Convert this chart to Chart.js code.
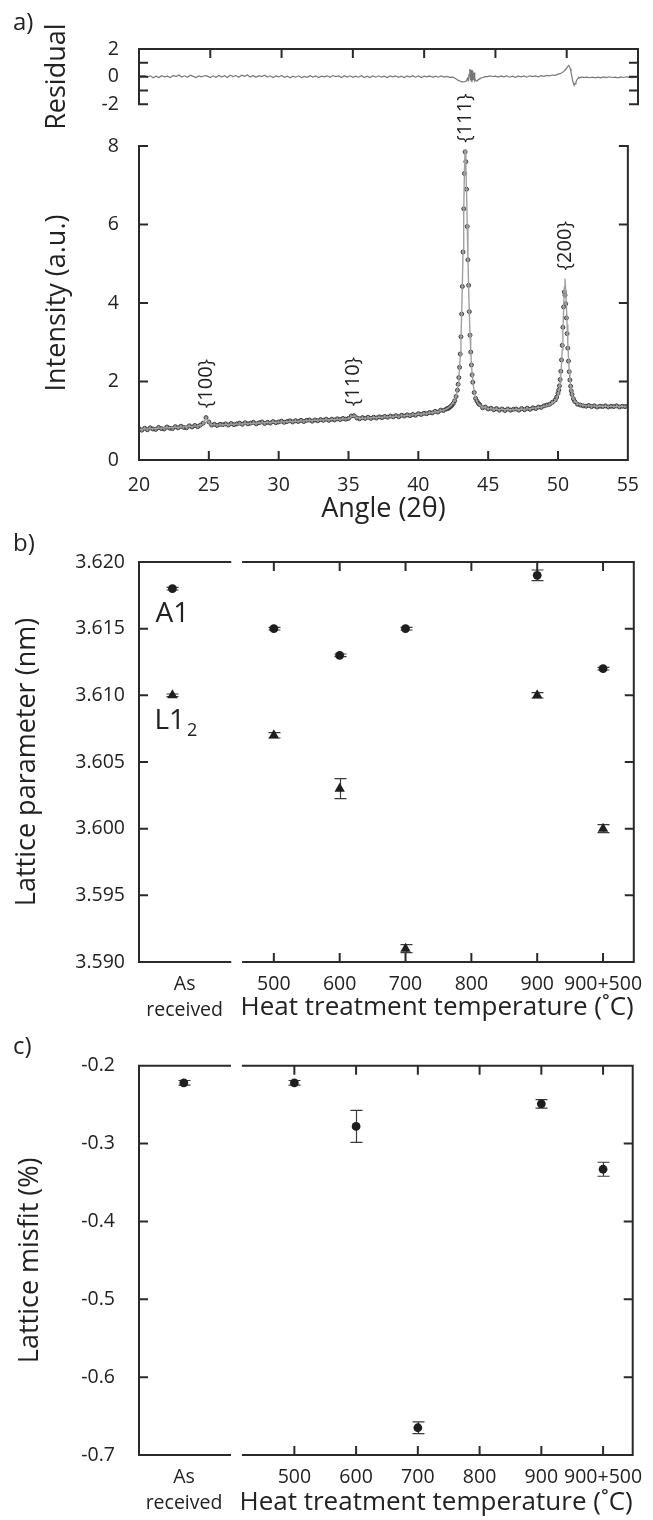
<!DOCTYPE html>
<html>
<head>
<meta charset="utf-8">
<title>XRD and lattice parameters</title>
<script src="https://cdn.jsdelivr.net/npm/chart.js@4.4.1/dist/chart.umd.min.js"></script>
<style>
  html, body { margin: 0; padding: 0; background: #fff; }
  #page { position: relative; width: 653px; height: 1520px; font-family: 'Open Sans', sans-serif; color: #222; }
  canvas { position: absolute; left: 0; }
  .tag { position: absolute; left: 13px; font-size: 24px; line-height: 30px; }
</style>
</head>
<body>
<div id="page">
  <canvas id="residualChart" width="653" height="136" style="top:0"></canvas>
  <canvas id="xrdChart" width="653" height="530" style="top:0"></canvas>
  <canvas id="latticeChart" width="653" height="510" style="top:520px"></canvas>
  <canvas id="misfitChart" width="653" height="490" style="top:1030px"></canvas>
  <div class="tag" style="top:6px">a)</div>
  <div class="tag" style="top:527px">b)</div>
  <div class="tag" style="top:1030px">c)</div>
</div>
<script>
// ---------- a) XRD pattern ----------
const angleTicks = [20, 25, 30, 35, 40, 45, 50, 55];
const intensityTicks = [0, 2, 4, 6, 8];
const residualTicks = [-2, -1, 0, 1, 2];

const scanAngle = [
  20, 20.2, 20.4, 20.6, 20.8, 21, 21.2, 21.4, 21.6, 21.8,
  22, 22.2, 22.4, 22.6, 22.8, 23, 23.2, 23.4, 23.6, 23.8,
  24, 24.2, 24.4, 24.6, 24.8, 25, 25.2, 25.4, 25.6, 25.8,
  26, 26.2, 26.4, 26.6, 26.8, 27, 27.2, 27.4, 27.6, 27.8,
  28, 28.2, 28.4, 28.6, 28.8, 29, 29.2, 29.4, 29.6, 29.8,
  30, 30.2, 30.4, 30.6, 30.8, 31, 31.2, 31.4, 31.6, 31.8,
  32, 32.2, 32.4, 32.6, 32.8, 33, 33.2, 33.4, 33.6, 33.8,
  34, 34.2, 34.4, 34.6, 34.8, 35, 35.2, 35.4, 35.6, 35.8,
  36, 36.2, 36.4, 36.6, 36.8, 37, 37.2, 37.4, 37.6, 37.8,
  38, 38.2, 38.4, 38.6, 38.8, 39, 39.2, 39.4, 39.6, 39.8,
  40, 40.2, 40.4, 40.6, 40.8, 41, 41.2, 41.4, 41.6, 41.8,
  42,
  42.1, 42.2, 42.3, 42.4, 42.5, 42.6, 42.7, 42.8,
  42.85, 42.9, 42.95, 43, 43.05, 43.1, 43.15, 43.2, 43.25, 43.3, 43.35,
  43.4, 43.45, 43.5, 43.55, 43.6, 43.65, 43.7, 43.75, 43.8, 43.85, 43.9,
  44, 44.1, 44.2, 44.3, 44.4, 44.6, 44.8,
  45, 45.2, 45.4, 45.6, 45.8, 46, 46.2, 46.4, 46.6, 46.8,
  47, 47.2, 47.4, 47.6, 47.8, 48, 48.2, 48.4, 48.6, 48.8,
  49, 49.2, 49.4, 49.6, 49.8,
  49.9, 50, 50.05, 50.1, 50.15, 50.2, 50.25, 50.3, 50.35, 50.4, 50.45,
  50.5, 50.55, 50.6, 50.65, 50.7, 50.75, 50.8, 50.85, 50.9, 50.95, 51,
  51.1, 51.2, 51.4, 51.6, 51.8,
  52, 52.2, 52.4, 52.6, 52.8, 53, 53.2, 53.4, 53.6, 53.8,
  54, 54.2, 54.4, 54.6, 54.8, 55
];

const observedIntensity = [
  0.80, 0.76, 0.81, 0.77, 0.82, 0.79, 0.78, 0.83, 0.80, 0.79,
  0.84, 0.81, 0.80, 0.85, 0.82, 0.86, 0.83, 0.82, 0.87, 0.84,
  0.88, 0.85, 0.89, 0.94, 1.08, 0.97, 0.89, 0.91, 0.88, 0.91,
  0.90, 0.92, 0.89, 0.93, 0.90, 0.92, 0.94, 0.91, 0.95, 0.92,
  0.94, 0.96, 0.92, 0.95, 0.97, 0.93, 0.96, 0.94, 0.98, 0.95,
  0.97, 0.99, 0.96, 0.98, 1.00, 0.97, 1.00, 0.98, 1.01, 0.98,
  1.01, 1.02, 0.99, 1.02, 1.00, 1.03, 1.01, 1.04, 1.01, 1.04,
  1.02, 1.05, 1.03, 1.06, 1.04, 1.06, 1.12, 1.13, 1.07, 1.05,
  1.08, 1.06, 1.09, 1.06, 1.09, 1.07, 1.10, 1.08, 1.11, 1.09,
  1.12, 1.10, 1.13, 1.10, 1.14, 1.12, 1.15, 1.13, 1.16, 1.14,
  1.18, 1.16, 1.19, 1.18, 1.21, 1.20, 1.24, 1.22, 1.27, 1.26,
  1.30,
  1.31, 1.33, 1.36, 1.39, 1.44, 1.51, 1.62, 1.78,
  1.93, 2.10, 2.36, 2.70, 3.14, 3.72, 4.42, 5.30, 6.40, 7.30, 7.85,
  7.60, 6.90, 5.95, 5.10, 4.45, 3.78, 3.18, 2.75, 2.42, 2.17, 1.98,
  1.72, 1.57, 1.50, 1.44, 1.41, 1.33, 1.35,
  1.30, 1.32, 1.28, 1.31, 1.27, 1.30, 1.26, 1.30, 1.27, 1.29,
  1.30, 1.27, 1.31, 1.28, 1.32, 1.29, 1.33, 1.31, 1.35, 1.34,
  1.38, 1.40, 1.42, 1.47, 1.53,
  1.60, 1.70, 1.78, 1.89, 2.05, 2.26, 2.55, 2.92, 3.38, 3.90, 4.28,
  4.20, 3.98, 3.62, 3.22, 2.85, 2.52, 2.25, 2.04, 1.88, 1.76, 1.67,
  1.56, 1.49, 1.42, 1.40, 1.38,
  1.37, 1.39, 1.36, 1.38, 1.35, 1.37, 1.36, 1.38, 1.35, 1.37,
  1.36, 1.38, 1.35, 1.37, 1.36, 1.37
];

const calculatedIntensity = [
  0.780, 0.784, 0.788, 0.792, 0.796, 0.800, 0.804, 0.808, 0.812, 0.816,
  0.820, 0.824, 0.828, 0.832, 0.836, 0.840, 0.844, 0.848, 0.852, 0.856,
  0.862, 0.868, 0.878, 0.930, 1.060, 0.960, 0.905, 0.895, 0.893, 0.895,
  0.897, 0.900, 0.904, 0.907, 0.911, 0.914, 0.917, 0.921, 0.924, 0.928,
  0.931, 0.934, 0.938, 0.941, 0.945, 0.948, 0.951, 0.955, 0.958, 0.962,
  0.965, 0.968, 0.972, 0.975, 0.979, 0.982, 0.985, 0.989, 0.992, 0.996,
  0.999, 1.002, 1.006, 1.009, 1.013, 1.016, 1.019, 1.023, 1.026, 1.030,
  1.033, 1.036, 1.040, 1.043, 1.047, 1.055, 1.110, 1.120, 1.075, 1.063,
  1.064, 1.067, 1.071, 1.075, 1.079, 1.083, 1.087, 1.091, 1.095, 1.099,
  1.103, 1.108, 1.113, 1.118, 1.123, 1.130, 1.136, 1.142, 1.149, 1.156,
  1.164, 1.172, 1.180, 1.189, 1.199, 1.210, 1.222, 1.236, 1.252, 1.272,
  1.295,
  1.32, 1.35, 1.38, 1.42, 1.47, 1.54, 1.64, 1.80,
  1.92, 2.08, 2.32, 2.65, 3.10, 3.70, 4.45, 5.35, 6.35, 7.35, 7.92,
  7.55, 6.85, 6.00, 5.15, 4.40, 3.75, 3.20, 2.78, 2.45, 2.20, 2.00,
  1.74, 1.58, 1.49, 1.43, 1.39, 1.35, 1.33,
  1.315, 1.305, 1.298, 1.292, 1.288, 1.285, 1.283, 1.282, 1.282, 1.283,
  1.285, 1.288, 1.292, 1.297, 1.303, 1.310, 1.318, 1.327, 1.338, 1.351,
  1.367, 1.387, 1.413, 1.450, 1.510,
  1.57, 1.66, 1.73, 1.83, 1.97, 2.16, 2.43, 2.80, 3.27, 3.83, 4.40,
  4.62, 4.35, 3.92, 3.45, 3.00, 2.62, 2.32, 2.08, 1.90, 1.77, 1.68,
  1.57, 1.50, 1.44, 1.41, 1.395,
  1.385, 1.380, 1.376, 1.373, 1.371, 1.369, 1.368, 1.367, 1.366, 1.365,
  1.365, 1.364, 1.364, 1.364, 1.363, 1.363
];

const residual = [
  0.12, 0.05, 0.08, -0.04, 0.06, -0.08, 0.03, -0.06, 0.07, -0.02,
  0.04, -0.07, 0.09, 0.01, 0.12, -0.03, 0.06, -0.05, 0.10, 0.02,
  -0.06, 0.05, -0.02, 0.08, 0.04, -0.07, 0.06, -0.04, 0.09, -0.03,
  0.07, -0.06, 0.11, 0.00, 0.08, -0.05, 0.10, 0.03, 0.12, -0.02,
  0.09, -0.04, 0.07, 0.01, 0.10, -0.03, 0.06, -0.07, 0.05, -0.02,
  0.08, -0.05, 0.04, -0.08, 0.03, -0.04, 0.06, -0.06, 0.02, -0.05,
  0.07, -0.03, 0.05, -0.07, 0.04, -0.02, 0.06, -0.05, 0.08, 0.00,
  0.05, -0.06, 0.07, -0.03, 0.06, -0.05, 0.04, -0.04, 0.07, -0.06,
  0.03, -0.07, 0.05, -0.04, 0.06, -0.03, 0.04, -0.06, 0.05, -0.02,
  0.06, -0.05, 0.03, -0.07, 0.05, -0.03, 0.07, -0.04, 0.05, -0.06,
  0.04, -0.02, 0.06, -0.05, 0.03, -0.04, 0.05, -0.03, 0.02, -0.05,
  -0.04,
  -0.08, -0.14, -0.20, -0.27, -0.32, -0.36, -0.38, -0.37,
  -0.36, -0.33, -0.30, -0.22, -0.12, -0.25, 0.15, 0.55, -0.30, 0.50, -0.40,
  0.45, -0.25, 0.30, -0.30, -0.22, -0.28, -0.30, -0.26, -0.22, -0.18, -0.15,
  -0.10, -0.06, -0.03, 0.02, -0.02, 0.05, 0.01,
  0.04, -0.03, 0.05, -0.02, 0.06, -0.04, 0.03, -0.05, 0.04, -0.02,
  0.05, -0.04, 0.06, 0.00, 0.05, -0.02, 0.07, 0.02, 0.09, 0.06,
  0.12, 0.10, 0.18, 0.25, 0.38,
  0.50, 0.62, 0.70, 0.76, 0.78, 0.72, 0.58, 0.35, 0.08, -0.20, -0.42,
  -0.55, -0.58, -0.50, -0.38, -0.26, -0.17, -0.10, -0.06, -0.08, -0.04, -0.06,
  -0.02, -0.07, -0.03, -0.08, -0.04,
  -0.09, -0.03, -0.08, -0.02, -0.07, -0.01, -0.06, -0.03, -0.08, -0.02,
  -0.06, -0.01, -0.05, -0.08, -0.02, -0.05
];

const peakNames = ['{100}', '{110}', '{111}', '{200}'];
const peakAngle = [24.8, 35.35, 43.33, 50.55];
const peakLabelBase = [1.32, 1.37, 8.08, 4.83];

// ---------- b) and c) heat treatments ----------
const treatments = ['As received', '500', '600', '700', '900', '900+500'];
const tempTicks = [500, 600, 700, 800, 900, 1000];
const tempTickLabels = ['500', '600', '700', '800', '900', '900+500'];

const a1Lattice = [3.618, 3.615, 3.613, 3.615, 3.619, 3.612];
const a1Error = [0.0001, 0.0001, 0.0001, 0.0001, 0.0004, 0.0001];
const l12Lattice = [3.610, 3.607, 3.603, 3.591, 3.610, 3.600];
const l12Error = [0.0001, 0.0002, 0.00075, 0.0003, 0.0002, 0.0003];
const latticeTicks = [3.590, 3.595, 3.600, 3.605, 3.610, 3.615, 3.620];

const misfit = [-0.222, -0.222, -0.278, -0.665, -0.249, -0.333];
const misfitError = [0.003, 0.003, 0.0205, 0.0075, 0.0055, 0.009];
const misfitTicks = [-0.7, -0.6, -0.5, -0.4, -0.3, -0.2];

// where each treatment sits on the temperature axis ("As received" is off-scale)
const treatmentPosB = [346, 500, 600, 700, 900, 1000];
const treatmentPosC = [321, 500, 600, 700, 900, 1000];

Chart.defaults.font.family = "'Open Sans', sans-serif";
Chart.defaults.color = '#222';

const INK = '#2a2a2a';
const TICK_FONT = 19.5;
const TITLE_FONT = 27;
const xy = (xs, ys) => xs.map((v, i) => ({ x: v, y: ys[i] }));
const fixTicks = list => scale => { scale.ticks = list.map(v => ({ value: v })); };

// box with inward ticks, optional break in the horizontal axes
function frame(spec) {
  return {
    id: 'frame',
    afterDatasetsDraw(chart) {
      const { ctx, chartArea: a, scales: { x, y } } = chart;
      const t = 8;
      ctx.save();
      ctx.strokeStyle = INK;
      ctx.lineWidth = 2;
      ctx.lineCap = 'square';
      ctx.beginPath();
      const hLine = yy => {
        if (spec.gap) {
          ctx.moveTo(a.left, yy); ctx.lineTo(x.getPixelForValue(spec.gap[0]), yy);
          ctx.moveTo(x.getPixelForValue(spec.gap[1]), yy); ctx.lineTo(a.right, yy);
        } else {
          ctx.moveTo(a.left, yy); ctx.lineTo(a.right, yy);
        }
      };
      if (spec.top) hLine(a.top);
      if (spec.bottom) hLine(a.bottom);
      ctx.moveTo(a.left, a.top); ctx.lineTo(a.left, a.bottom);
      ctx.moveTo(a.right, a.top); ctx.lineTo(a.right, a.bottom);
      spec.yTicks.forEach(v => {
        const py = y.getPixelForValue(v);
        ctx.moveTo(a.left, py); ctx.lineTo(a.left + t, py);
        ctx.moveTo(a.right, py); ctx.lineTo(a.right - t, py);
      });
      spec.xTicks.forEach(v => {
        const px = x.getPixelForValue(v);
        if (spec.tickTop) { ctx.moveTo(px, a.top); ctx.lineTo(px, a.top + t); }
        if (spec.tickBottom) { ctx.moveTo(px, a.bottom); ctx.lineTo(px, a.bottom - t); }
      });
      ctx.stroke();
      ctx.restore();
    }
  };
}

const errorBars = {
  id: 'errorBars',
  beforeDatasetsDraw(chart) {
    const { ctx, scales: { x, y } } = chart;
    ctx.save();
    ctx.strokeStyle = '#3a3a3a';
    ctx.lineWidth = 1.2;
    chart.data.datasets.forEach(ds => {
      if (!ds.errors) return;
      ds.data.forEach((pt, i) => {
        const px = Math.round(x.getPixelForValue(pt.x)) + 0.5;
        const top = y.getPixelForValue(pt.y + ds.errors[i]);
        const bot = y.getPixelForValue(pt.y - ds.errors[i]);
        ctx.beginPath();
        ctx.moveTo(px, top); ctx.lineTo(px, bot);
        ctx.moveTo(px - 6, top); ctx.lineTo(px + 6, top);
        ctx.moveTo(px - 6, bot); ctx.lineTo(px + 6, bot);
        ctx.stroke();
      });
    });
    ctx.restore();
  }
};

const peakLabels = {
  id: 'peakLabels',
  afterDatasetsDraw(chart) {
    const { ctx, scales: { x, y } } = chart;
    ctx.save();
    ctx.font = "20px 'Open Sans'";
    ctx.fillStyle = '#222';
    ctx.textAlign = 'left';
    ctx.textBaseline = 'middle';
    peakNames.forEach((name, i) => {
      ctx.save();
      ctx.translate(x.getPixelForValue(peakAngle[i]), y.getPixelForValue(peakLabelBase[i]));
      ctx.rotate(-Math.PI / 2);
      ctx.fillText(name, 0, 0);
      ctx.restore();
    });
    ctx.restore();
  }
};

const phaseLabels = {
  id: 'phaseLabels',
  afterDatasetsDraw(chart) {
    const { ctx, scales: { x, y } } = chart;
    const px = x.getPixelForValue(treatmentPosB[0]);
    ctx.save();
    ctx.fillStyle = '#222';
    ctx.textBaseline = 'middle';
    ctx.font = "28px 'Open Sans'";
    ctx.textAlign = 'center';
    ctx.fillText('A1', px, y.getPixelForValue(3.6161));
    const ly = y.getPixelForValue(3.6081);
    ctx.textAlign = 'left';
    ctx.fillText('L1', px - 18, ly);
    const w = ctx.measureText('L1').width;
    ctx.font = "18px 'Open Sans'";
    ctx.fillText('2', px - 18 + w + 2, ly + 10);
    ctx.restore();
  }
};

const base = (padding) => ({
  responsive: false,
  animation: false,
  events: [],
  layout: { padding },
  plugins: { legend: { display: false }, tooltip: { enabled: false } }
});

const yAxis = (ticks, label, tickPad, titlePad, fmt, extra) => Object.assign({
  afterBuildTicks: fixTicks(ticks),
  afterFit: s => { s.width = 139; },
  grid: { display: false, drawTicks: false },
  border: { display: false },
  ticks: { callback: fmt, padding: tickPad, font: { size: TICK_FONT }, color: '#222' },
  title: { display: true, text: label, font: { size: TITLE_FONT }, color: '#222', padding: { top: titlePad } }
}, extra);

// residual strip
new Chart(document.getElementById('residualChart'), {
  type: 'line',
  data: {
    datasets: [{
      data: xy(scanAngle, residual),
      borderColor: '#777', borderWidth: 1.2, pointRadius: 0, tension: 0
    }]
  },
  options: Object.assign(base({ top: 49, right: 15, bottom: 12, left: 0 }), {
    scales: {
      x: { type: 'linear', min: 20, max: 55, display: false },
      y: yAxis(residualTicks, 'Residual', 20, 41, v => (v % 2 === 0 ? String(v) : ''), { min: -2, max: 2 })
    }
  }),
  plugins: [frame({ top: true, bottom: false, yTicks: residualTicks, xTicks: angleTicks, tickTop: true })]
});

// diffraction pattern
new Chart(document.getElementById('xrdChart'), {
  type: 'line',
  data: {
    datasets: [
      {
        data: xy(scanAngle, calculatedIntensity),
        borderColor: '#a0a0a0', borderWidth: 1.4, pointRadius: 0, tension: 0, order: 0
      },
      {
        data: xy(scanAngle, observedIntensity),
        showLine: false, pointRadius: 2,
        pointBackgroundColor: 'rgba(100,100,100,0.65)', pointBorderColor: '#333', pointBorderWidth: 0.9,
        order: 1
      }
    ]
  },
  options: Object.assign(base({ top: 146, right: 15, bottom: 4, left: 0 }), {
    scales: {
      x: {
        type: 'linear', min: 20, max: 55,
        afterBuildTicks: fixTicks(angleTicks),
        afterFit: s => { s.height = 66; },
        grid: { display: false, drawTicks: false },
        border: { display: false },
        ticks: { padding: 14, font: { size: TICK_FONT }, color: '#222', autoSkip: false, maxRotation: 0, callback: v => String(v) },
        title: { display: true, text: 'Angle (2θ)', font: { size: TITLE_FONT }, color: '#222', padding: 0 }
      },
      y: yAxis(intensityTicks, 'Intensity (a.u.)', 20, 41, v => String(v), { min: 0, max: 8 })
    }
  }),
  plugins: [frame({ top: false, bottom: true, yTicks: intensityTicks, xTicks: angleTicks, tickBottom: true }), peakLabels]
});

const tempAxis = (min, max, asLabelAt, height) => ({
  type: 'linear', min, max,
  afterBuildTicks: fixTicks([asLabelAt].concat(tempTicks)),
  afterFit: s => { s.height = height; },
  grid: { display: false, drawTicks: false },
  border: { display: false },
  ticks: {
    padding: 10, font: { size: TICK_FONT, lineHeight: 1.3 }, color: '#222', autoSkip: false, maxRotation: 0,
    callback: (v, i) => (i === 0 ? ['As', 'received'] : tempTickLabels[i - 1])
  },
  title: { display: true, text: 'Heat treatment temperature (˚C)', align: 'end', font: { size: 26 }, color: '#222', padding: 0 }
});

// lattice parameter
new Chart(document.getElementById('latticeChart'), {
  type: 'scatter',
  data: {
    datasets: [
      {
        label: 'A1', data: xy(treatmentPosB, a1Lattice), errors: a1Error,
        pointStyle: 'circle', pointRadius: 4.4, pointBackgroundColor: '#1e1e1e', pointBorderWidth: 0
      },
      {
        label: 'L1₂', data: xy(treatmentPosB, l12Lattice), errors: l12Error,
        pointStyle: 'triangle', pointRadius: 6, pointBackgroundColor: '#1e1e1e', pointBorderWidth: 0
      }
    ]
  },
  options: Object.assign(base({ top: 42, right: 15, bottom: 7, left: 0 }), {
    scales: {
      x: tempAxis(295.2, 1046.7, 364.5, 61),
      y: yAxis(latticeTicks, 'Lattice parameter (nm)', 14, 11, v => v.toFixed(3), { min: 3.590, max: 3.620 })
    }
  }),
  plugins: [frame({ top: true, bottom: true, gap: [433.8, 453.3], yTicks: latticeTicks, xTicks: tempTicks, tickTop: true, tickBottom: true }), errorBars, phaseLabels]
});

// lattice misfit
new Chart(document.getElementById('misfitChart'), {
  type: 'scatter',
  data: {
    datasets: [{
      label: 'misfit', data: xy(treatmentPosC, misfit), errors: misfitError,
      pointStyle: 'circle', pointRadius: 4.4, pointBackgroundColor: '#1e1e1e', pointBorderWidth: 0
    }]
  },
  options: Object.assign(base({ top: 24, right: 15, bottom: 2, left: 0 }), {
    scales: {
      x: tempAxis(248.4, 1048, 321.3, 63),
      y: yAxis(misfitTicks, 'Lattice misfit (%)', 24, 14, v => v.toFixed(1), { min: -0.7, max: -0.2 })
    }
  }),
  plugins: [frame({ top: true, bottom: true, gap: [395.8, 416.7], yTicks: misfitTicks, xTicks: tempTicks, tickTop: true, tickBottom: true }), errorBars]
});
</script>
</body>
</html>
